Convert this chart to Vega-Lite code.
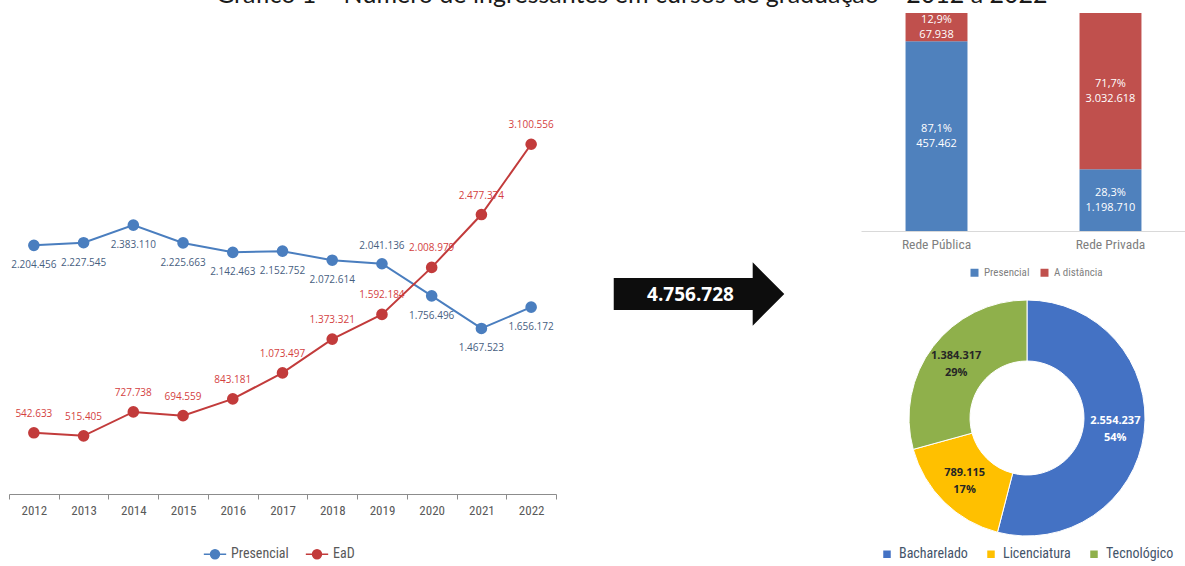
{
  "$schema": "https://vega.github.io/schema/vega-lite/v6.json",
  "autosize": {"type": "pad"},
  "padding": {"left": 8, "top": -17, "right": 0, "bottom": 0},
  "background": "white",
  "title": {"text": "Gráfico 1 – Número de ingressantes em cursos de graduação – 2012 a 2022", "anchor": "middle", "font": "Lato", "fontSize": 25, "fontWeight": "normal", "color": "#1a1a1a", "offset": 5, "dx": 31},
  "config": {
    "locale": {"number": {"decimal": ",", "thousands": ".", "grouping": [3], "currency": ["R$", ""]}},
    "view": {"stroke": null}
  },
  "datasets": {
    "linha": [
      {"ano": 2012, "serie": "Presencial", "valor": 2204456},
      {"ano": 2013, "serie": "Presencial", "valor": 2227545},
      {"ano": 2014, "serie": "Presencial", "valor": 2383110},
      {"ano": 2015, "serie": "Presencial", "valor": 2225663},
      {"ano": 2016, "serie": "Presencial", "valor": 2142463},
      {"ano": 2017, "serie": "Presencial", "valor": 2152752},
      {"ano": 2018, "serie": "Presencial", "valor": 2072614},
      {"ano": 2019, "serie": "Presencial", "valor": 2041136},
      {"ano": 2020, "serie": "Presencial", "valor": 1756496},
      {"ano": 2021, "serie": "Presencial", "valor": 1467523},
      {"ano": 2022, "serie": "Presencial", "valor": 1656172},
      {"ano": 2012, "serie": "EaD", "valor": 542633},
      {"ano": 2013, "serie": "EaD", "valor": 515405},
      {"ano": 2014, "serie": "EaD", "valor": 727738},
      {"ano": 2015, "serie": "EaD", "valor": 694559},
      {"ano": 2016, "serie": "EaD", "valor": 843181},
      {"ano": 2017, "serie": "EaD", "valor": 1073497},
      {"ano": 2018, "serie": "EaD", "valor": 1373321},
      {"ano": 2019, "serie": "EaD", "valor": 1592184},
      {"ano": 2020, "serie": "EaD", "valor": 2008979},
      {"ano": 2021, "serie": "EaD", "valor": 2477374},
      {"ano": 2022, "serie": "EaD", "valor": 3100556}
    ],
    "rede": [
      {"rede": "Rede Pública", "tipo": "Presencial", "ordem": 1, "valor": 457462, "pct": 0.871},
      {"rede": "Rede Pública", "tipo": "A distância", "ordem": 2, "valor": 67938, "pct": 0.129},
      {"rede": "Rede Privada", "tipo": "Presencial", "ordem": 1, "valor": 1198710, "pct": 0.283},
      {"rede": "Rede Privada", "tipo": "A distância", "ordem": 2, "valor": 3032618, "pct": 0.717}
    ],
    "grau": [
      {"grau": "Bacharelado", "ordem": 1, "valor": 2554237, "pct": 0.54},
      {"grau": "Licenciatura", "ordem": 2, "valor": 789115, "pct": 0.17},
      {"grau": "Tecnológico", "ordem": 3, "valor": 1384317, "pct": 0.29}
    ],
    "total": [{"total": 4756728}]
  },
  "spacing": 0,
  "bounds": "flush",
  "resolve": {"scale": {"color": "independent"}},
  "hconcat": [
    {
      "width": 547,
      "height": 481,
      "data": {"name": "linha"},
      "encoding": {
        "x": {"field": "ano", "type": "ordinal", "scale": {"type": "band", "paddingInner": 0, "paddingOuter": 0},
          "axis": {"title": null, "tickBand": "extent", "labelAngle": 0, "grid": false, "domainColor": "#8c8c8c", "tickColor": "#8c8c8c", "tickSize": 5, "labelColor": "#595959", "labelFont": "Liberation Sans Narrow, Roboto Condensed, Roboto", "labelFontSize": 13, "labelPadding": 5}},
        "y": {"field": "valor", "type": "quantitative", "scale": {"domain": [0, 4264000], "nice": false, "zero": true}, "axis": null}
      },
      "layer": [
        {
          "mark": {"type": "line", "strokeWidth": 2},
          "encoding": {
            "color": {"field": "serie", "type": "nominal",
              "scale": {"domain": ["Presencial", "EaD"], "range": ["#4a7ebf", "#c23b3b"]},
              "legend": {"title": null, "orient": "none", "legendX": 194, "legendY": 529, "direction": "horizontal",
                "symbolType": "M-1,0H-0.4A0.4,0.4,0,1,1,0.4,0H1M0.4,0A0.4,0.4,0,1,1,-0.4,0",
                "symbolSize": 500, "symbolStrokeWidth": 1.5,
                "labelFont": "Liberation Sans Narrow, Roboto Condensed, Roboto", "labelFontSize": 14, "labelColor": "#595959", "columnPadding": 13}}
          }
        },
        {
          "mark": {"type": "point", "filled": true, "size": 135, "opacity": 1},
          "encoding": {"color": {"field": "serie", "type": "nominal"}}
        },
        {
          "transform": [{"filter": "datum.serie === 'Presencial' && datum.ano !== 2019"}],
          "mark": {"type": "text", "dy": 20, "font": "Open Sans", "fontSize": 10, "color": "#47607f"},
          "encoding": {"text": {"field": "valor", "type": "quantitative", "format": ",d"}}
        },
        {
          "transform": [{"filter": "datum.serie === 'Presencial' && datum.ano === 2019"}],
          "mark": {"type": "text", "dy": -18, "font": "Open Sans", "fontSize": 10, "color": "#47607f"},
          "encoding": {"text": {"field": "valor", "type": "quantitative", "format": ",d"}}
        },
        {
          "transform": [{"filter": "datum.serie === 'EaD'"}],
          "mark": {"type": "text", "dy": -19, "font": "Open Sans", "fontSize": 10, "color": "#d43f3f"},
          "encoding": {"text": {"field": "valor", "type": "quantitative", "format": ",d"}}
        }
      ]
    },
    {
      "width": 305,
      "height": 562,
      "data": {"name": "total"},
      "layer": [
        {
          "mark": {"type": "point", "shape": "M-1.083,-0.183L0.505,-0.183L0.505,-0.362L0.866,0L0.505,0.362L0.505,0.183L-1.083,0.183Z", "size": 30625, "filled": true, "color": "#0d0d0d", "opacity": 1},
          "encoding": {}
        },
        {
          "mark": {"type": "text", "color": "white", "font": "Open Sans", "fontWeight": "bold", "fontSize": 19, "dx": -18, "dy": 1},
          "encoding": {"text": {"field": "total", "type": "quantitative", "format": ",d"}}
        }
      ]
    },
    {
      "spacing": 20,
      "bounds": "flush",
      "resolve": {"scale": {"color": "independent"}},
      "vconcat": [
        {
          "width": 325,
          "height": 218,
          "data": {"name": "rede"},
          "transform": [
            {"stack": "valor", "groupby": ["rede"], "sort": [{"field": "ordem", "order": "ascending"}], "offset": "normalize", "as": ["v0", "v1"]},
            {"calculate": "(datum.v0 + datum.v1) / 2", "as": "vm"}
          ],
          "encoding": {
            "x": {"field": "rede", "type": "nominal", "sort": ["Rede Pública", "Rede Privada"],
              "scale": {"paddingInner": 0.644, "paddingOuter": 0.256},
              "axis": {"title": null, "labelAngle": 0, "ticks": false, "domainColor": "#d9d9d9", "labelColor": "#7f7f7f", "labelFont": "Liberation Sans Narrow, Roboto Condensed, Roboto", "labelFontSize": 13.5, "labelFontWeight": "normal", "labelPadding": 6}}
          },
          "layer": [
            {
              "mark": {"type": "bar"},
              "encoding": {
                "y": {"field": "v0", "type": "quantitative", "scale": {"domain": [0, 1], "nice": false}, "axis": null},
                "y2": {"field": "v1"},
                "color": {"field": "tipo", "type": "nominal",
                  "scale": {"domain": ["Presencial", "A distância"], "range": ["#4f81bd", "#c0504d"]},
                  "legend": {"title": null, "orient": "none", "legendX": 108, "legendY": 254, "direction": "horizontal",
                    "symbolType": "square", "symbolSize": 64, "labelFont": "Liberation Sans Narrow, Roboto Condensed, Roboto", "labelFontSize": 11, "labelColor": "#7f7f7f", "columnPadding": 9}}
              }
            },
            {
              "mark": {"type": "text", "dy": -7.5, "font": "Open Sans", "fontSize": 11, "color": "white"},
              "encoding": {
                "y": {"field": "vm", "type": "quantitative"},
                "text": {"field": "pct", "type": "quantitative", "format": ".1%"}
              }
            },
            {
              "mark": {"type": "text", "dy": 7.5, "font": "Open Sans", "fontSize": 11, "color": "white"},
              "encoding": {
                "y": {"field": "vm", "type": "quantitative"},
                "text": {"field": "valor", "type": "quantitative", "format": ",d"}
              }
            }
          ]
        },
        {
          "width": 332,
          "height": 334,
          "data": {"name": "grau"},
          "encoding": {
            "theta": {"field": "valor", "type": "quantitative", "stack": true},
            "order": {"field": "ordem", "type": "quantitative"}
          },
          "layer": [
            {
              "mark": {"type": "arc", "innerRadius": 57, "outerRadius": 118, "stroke": "white", "strokeWidth": 1},
              "encoding": {
                "color": {"field": "grau", "type": "nominal",
                  "scale": {"domain": ["Bacharelado", "Licenciatura", "Tecnológico"], "range": ["#4472c4", "#ffc000", "#8fb04b"]},
                  "legend": {"title": null, "orient": "none", "legendX": 19, "legendY": 296, "direction": "horizontal",
                    "symbolType": "square", "symbolSize": 81, "labelOffset": 5, "labelFont": "Liberation Sans Narrow, Roboto Condensed, Roboto", "labelFontSize": 14, "labelColor": "#44546a", "columnPadding": 15}}
              }
            },
            {
              "mark": {"type": "text", "radius": 89, "dy": -8.5, "font": "Open Sans", "fontSize": 11, "fontWeight": "bold"},
              "encoding": {
                "text": {"field": "valor", "type": "quantitative", "format": ",d"},
                "color": {"condition": {"test": "datum.grau === 'Bacharelado'", "value": "white"}, "value": "#262626"}
              }
            },
            {
              "mark": {"type": "text", "radius": 89, "dy": 8.5, "font": "Open Sans", "fontSize": 11, "fontWeight": "bold"},
              "encoding": {
                "text": {"field": "pct", "type": "quantitative", "format": ".0%"},
                "color": {"condition": {"test": "datum.grau === 'Bacharelado'", "value": "white"}, "value": "#262626"}
              }
            }
          ]
        }
      ]
    }
  ]
}
